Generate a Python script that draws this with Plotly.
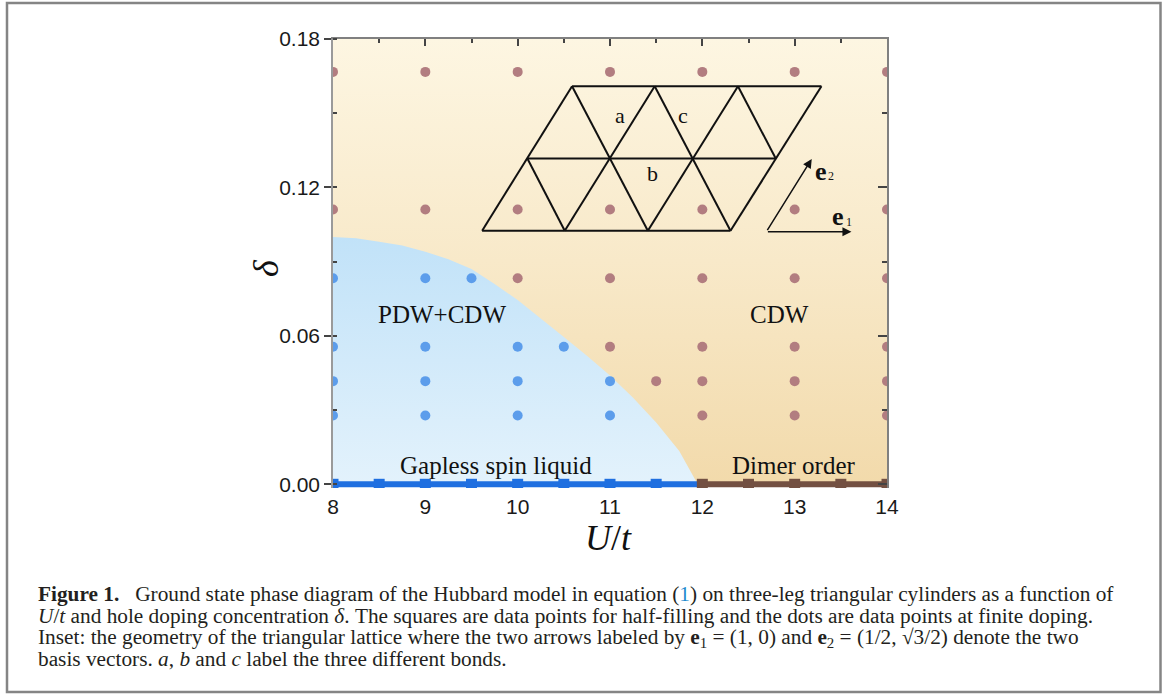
import plotly.graph_objects as go

# ---------------- data ----------------
x_ticks = [8, 9, 10, 11, 12, 13, 14]
y_ticks = [0.00, 0.06, 0.12, 0.18]
y_tick_labels = ["0.00", "0.06", "0.12", "0.18"]

# finite-doping points in the PDW+CDW phase (blue dots)
pdw_U = [8, 9, 9.5,
         8, 9, 10, 10.5,
         8, 9, 10, 11,
         8, 9, 10, 11]
pdw_delta = [0.0833, 0.0833, 0.0833,
             0.0556, 0.0556, 0.0556, 0.0556,
             0.0417, 0.0417, 0.0417, 0.0417,
             0.0278, 0.0278, 0.0278, 0.0278]

# finite-doping points in the CDW phase (brown dots)
cdw_U = [8, 9, 10, 11, 12, 13, 14,
         8, 9, 10, 11, 12, 13, 14,
         10, 11, 12, 13, 14,
         11, 12, 13, 14,
         11.5, 12, 13, 14,
         12, 13, 14]
cdw_delta = [0.1667] * 7 + [0.1111] * 7 + [0.0833] * 5 + [0.0556] * 4 + [0.0417] * 4 + [0.0278] * 3

# half-filling points (squares)
gsl_U = [8, 8.5, 9, 9.5, 10, 10.5, 11, 11.5]
gsl_delta = [0, 0, 0, 0, 0, 0, 0, 0]
dimer_U = [12, 12.5, 13, 13.5, 14]
dimer_delta = [0, 0, 0, 0, 0]
gsl_line_U = [8, 11.95]
dimer_line_U = [11.95, 14]

# phase boundary PDW+CDW / CDW
boundary_U = [8, 8.25, 8.5, 8.75, 9, 9.25, 9.5, 9.75, 10, 10.25, 10.5,
              10.75, 11, 11.25, 11.5, 11.75, 11.95]
boundary_delta = [0.100, 0.0995, 0.098, 0.0965, 0.094, 0.091, 0.087, 0.081, 0.0745,
                  0.067, 0.0595, 0.052, 0.044, 0.035, 0.025, 0.0135, 0.0]

# inset lattice nodes (three rows)
lat_bottom_U = [9.615, 10.51, 11.41, 12.305]
lat_mid_U = [10.105, 10.997, 11.899, 12.795]
lat_top_U = [10.589, 11.484, 12.386, 13.29]
lat_row_delta = [0.1025, 0.1317, 0.1609]

# basis vectors
e_origin = (12.694, 0.1021)
e1_tip = (13.615, 0.1021)
e2_tip = (13.185, 0.1315)

# ---------------- styles ----------------
BLUE_DOT = "#5c9deb"
BROWN_DOT = "#b27d80"
BLUE_LINE = "#1f6fe0"
BROWN_LINE = "#735042"
SERIF = "Liberation Serif, Times New Roman, serif"
SANS = "Liberation Sans, Arial, sans-serif"
Y_RANGE = [-0.0015, 0.18]

fig = go.Figure()

# CDW background (whole plot)
fig.add_trace(go.Scatter(
    x=[8, 14, 14, 8, 8], y=[0, 0, 0.18, 0.18, 0], mode="none",
    fill="toself",
    fillgradient=dict(type="vertical", start=0, stop=0.18,
                      colorscale=[[0, "#f2daab"], [0.5, "#f8e9c9"], [1, "#fdf6e2"]]),
    hoverinfo="skip", showlegend=False))

# PDW+CDW region
fig.add_trace(go.Scatter(
    x=boundary_U + [8, 8], y=boundary_delta + [0, boundary_delta[0]],
    mode="none", fill="toself",
    fillgradient=dict(type="vertical", start=0, stop=0.1,
                      colorscale=[[0, "#e3f2fc"], [1, "#c1e2f8"]]),
    hoverinfo="skip", showlegend=False))

# dots
fig.add_trace(go.Scatter(x=pdw_U, y=pdw_delta, mode="markers",
                         marker=dict(color=BLUE_DOT, size=10), showlegend=False, hoverinfo="skip"))
fig.add_trace(go.Scatter(x=cdw_U, y=cdw_delta, mode="markers",
                         marker=dict(color=BROWN_DOT, size=10), showlegend=False, hoverinfo="skip"))

# half-filling lines and squares
fig.add_trace(go.Scatter(x=gsl_line_U, y=[0, 0], mode="lines",
                         line=dict(color=BLUE_LINE, width=6), showlegend=False, hoverinfo="skip"))
fig.add_trace(go.Scatter(x=dimer_line_U, y=[0, 0], mode="lines",
                         line=dict(color=BROWN_LINE, width=6), showlegend=False, hoverinfo="skip"))
fig.add_trace(go.Scatter(x=gsl_U, y=gsl_delta, mode="markers",
                         marker=dict(color=BLUE_LINE, size=11, symbol="square"),
                         showlegend=False, hoverinfo="skip"))
fig.add_trace(go.Scatter(x=dimer_U, y=dimer_delta, mode="markers",
                         marker=dict(color=BROWN_LINE, size=11, symbol="square"),
                         showlegend=False, hoverinfo="skip"))

# inset lattice
rows = [lat_bottom_U, lat_mid_U, lat_top_U]
lx, ly = [], []
def seg(pts):
    for (u, d) in pts:
        lx.append(u)
        ly.append(d)
    lx.append(None)
    ly.append(None)
for r, d in zip(rows, lat_row_delta):
    seg([(r[0], d), (r[-1], d)])
for i in range(4):
    seg([(lat_bottom_U[i], lat_row_delta[0]), (lat_mid_U[i], lat_row_delta[1]),
         (lat_top_U[i], lat_row_delta[2])])
seg([(lat_mid_U[0], lat_row_delta[1]), (lat_bottom_U[1], lat_row_delta[0])])
seg([(lat_top_U[0], lat_row_delta[2]), (lat_mid_U[1], lat_row_delta[1]), (lat_bottom_U[2], lat_row_delta[0])])
seg([(lat_top_U[1], lat_row_delta[2]), (lat_mid_U[2], lat_row_delta[1]), (lat_bottom_U[3], lat_row_delta[0])])
seg([(lat_top_U[2], lat_row_delta[2]), (lat_mid_U[3], lat_row_delta[1])])
fig.add_trace(go.Scatter(x=lx, y=ly, mode="lines", line=dict(color="#111111", width=2),
                         showlegend=False, hoverinfo="skip"))

# invisible trace for top / right axes
fig.add_trace(go.Scatter(x=[14], y=[0.18], mode="markers", marker=dict(opacity=0),
                         xaxis="x2", yaxis="y2", showlegend=False, hoverinfo="skip"))

ann = []
def txt(x, y, s, size, ref="data", **kw):
    d = dict(x=x, y=y, text=s, showarrow=False, xanchor="center", yanchor="middle",
             font=dict(family=kw.pop("family", SERIF), size=size, color=kw.pop("color", "#111111")))
    if ref == "data":
        d.update(xref="x", yref="y")
    else:
        d.update(xref="paper", yref="paper")
    d.update(kw)
    ann.append(d)

txt(9.18, 0.0685, "PDW+CDW", 25)
txt(12.836, 0.0685, "CDW", 25)
txt(9.762, 0.0076, "Gapless spin liquid", 25)
txt(12.998, 0.0076, "Dimer order", 25)
txt(11.105, 0.149, "a", 22)
txt(11.787, 0.149, "c", 22)
txt(11.462, 0.1256, "b", 22)
txt(13.29, 0.1265, "<b>e</b>", 26)
txt(13.39, 0.1245, "2", 12)
txt(13.472, 0.1081, "<b>e</b>", 26)
txt(13.59, 0.106, "1", 12)

# arrows
for tip in (e1_tip, e2_tip):
    ann.append(dict(x=tip[0], y=tip[1], ax=e_origin[0], ay=e_origin[1],
                    xref="x", yref="y", axref="x", ayref="y", text="",
                    showarrow=True, arrowhead=2, arrowsize=1.2, arrowwidth=1.5,
                    arrowcolor="#111111", standoff=0, startstandoff=0))

# layout geometry (pixels)
M_L, M_R, M_T, M_B = 333, 287, 39, 207
PLOT_W = 1174 - M_L - M_R
PLOT_H = 695 - M_T - M_B

def px2paper(px, py):
    return (px - M_L) / PLOT_W, (695 - M_B - py) / PLOT_H

x0, y0 = px2paper(266, 268)
txt(x0, y0, "<i>δ</i>", 36, ref="paper", textangle=-90)
x0, y0 = px2paper(608, 538)
txt(x0, y0, "<i>U</i>/<i>t</i>", 36, ref="paper")

# caption
cap = [
    "<b>Figure 1.</b>\u00a0\u00a0 Ground state phase diagram of the Hubbard model in equation "
    "(<span style='color:#1e8ccf'>1</span>) on three-leg triangular cylinders as a function of",
    "<i>U</i>/<i>t</i> and hole doping concentration <i>δ</i>. The squares are data points for "
    "half-filling and the dots are data points at finite doping.",
    "Inset: the geometry of the triangular lattice where the two arrows labeled by "
    "<b>e</b><sub>1</sub> = (1, 0) and <b>e</b><sub>2</sub> = (1/2, √3/2) denote the two",
    "basis vectors. <i>a</i>, <i>b</i> and <i>c</i> label the three different bonds.",
]
cap_y = [594, 616, 637.5, 659]
for s, py in zip(cap, cap_y):
    x0, y0 = px2paper(36, py)
    txt(x0, y0, s, 21.3, ref="paper", xanchor="left", yanchor="middle", color="#231f20")

# frame
fx0, fy0 = px2paper(7, 692)
fx1, fy1 = px2paper(1160.5, 3)
shapes = [dict(type="rect", xref="paper", yref="paper", x0=fx0, y0=fy0, x1=fx1, y1=fy1,
               line=dict(color="#858585", width=2.5), fillcolor="rgba(0,0,0,0)", layer="above")]

tickfont = dict(family=SANS, size=21, color="#1a1a1a")
minor_x = dict(tick0=8, dtick=0.5, ticks="inside", ticklen=4, tickwidth=1.5,
               tickcolor="#444444", showgrid=False)
fig.update_layout(
    width=1174, height=695,
    margin=dict(l=M_L, r=M_R, t=M_T, b=M_B),
    paper_bgcolor="white", plot_bgcolor="white",
    annotations=ann, shapes=shapes,
    xaxis=dict(range=[8, 14], tickvals=x_ticks, ticks="", showline=False, showgrid=False,
               zeroline=False, tickfont=tickfont, ticklabelstandoff=4),
    xaxis2=dict(range=[8, 14], overlaying="x", side="top", tickvals=x_ticks,
                showticklabels=False, ticks="inside", ticklen=7, tickwidth=1.5,
                tickcolor="#444444", showline=True, linecolor="#808080", linewidth=1.5,
                showgrid=False, zeroline=False, minor=minor_x),
    yaxis=dict(range=Y_RANGE, tickvals=y_ticks, ticktext=y_tick_labels, ticks="outside",
               ticklen=7, tickwidth=1.5, tickcolor="#444444", showline=True,
               linecolor="#9a9a9a", linewidth=1.5, showgrid=False, zeroline=False,
               tickfont=tickfont,
               minor=dict(tick0=0, dtick=0.03, ticks="inside", ticklen=4, tickwidth=1.5,
                          tickcolor="#444444", showgrid=False)),
    yaxis2=dict(range=Y_RANGE, overlaying="y", side="right", tickvals=y_ticks,
                showticklabels=False, ticks="inside", ticklen=9, tickwidth=1.5,
                tickcolor="#444444", showline=True, linecolor="#808080", linewidth=1.5,
                showgrid=False, zeroline=False,
                minor=dict(tick0=0, dtick=0.03, ticks="inside", ticklen=5, tickwidth=1.5,
                           tickcolor="#444444", showgrid=False)),
)

fig.write_html("out.html")
